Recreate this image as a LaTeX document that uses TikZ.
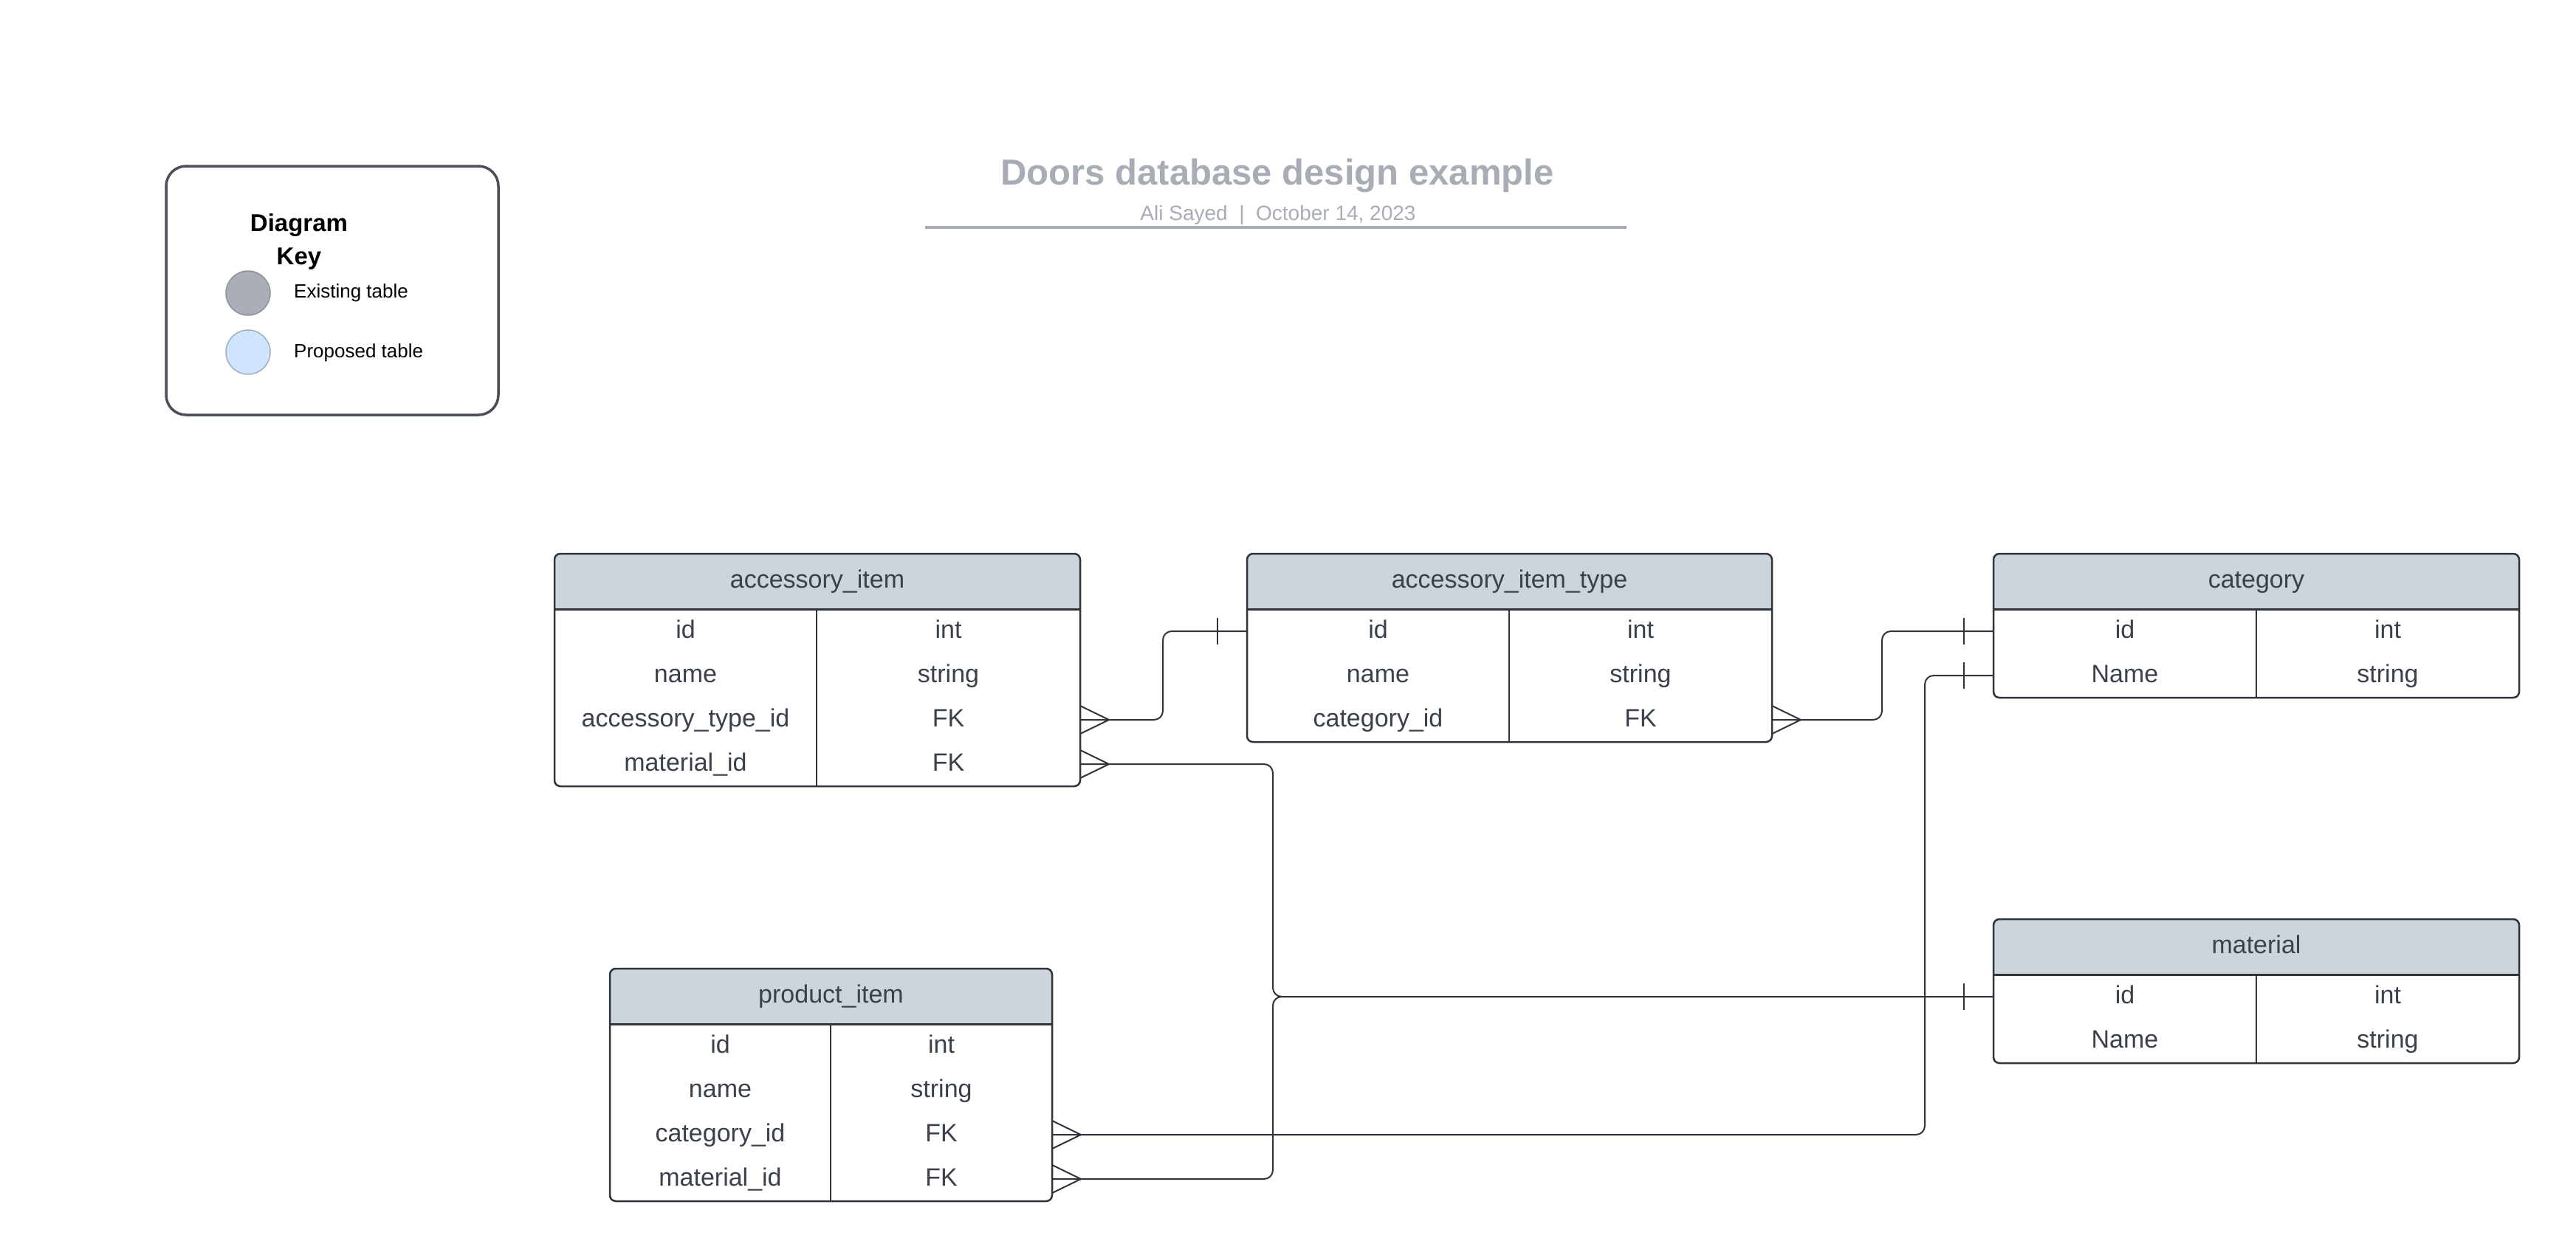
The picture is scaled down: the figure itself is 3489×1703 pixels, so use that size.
\documentclass[tikz,border=0pt]{standalone}
\usepackage{fontspec}
\setmainfont{Liberation Sans}
\definecolor{titlec}{HTML}{A7ACB5}
\definecolor{hdrfill}{HTML}{CED4DC}
\definecolor{textc}{HTML}{3A414A}
\definecolor{linec}{HTML}{2F343B}
\definecolor{keyborder}{HTML}{4A4F57}
\definecolor{existfill}{HTML}{A9AEB8}
\definecolor{existdraw}{HTML}{8B9099}
\definecolor{propfill}{HTML}{CFE4FF}
\definecolor{propdraw}{HTML}{A3AEBB}
\tikzset{
  tabline/.style={draw=linec, line width=2.5pt},
  hdrline/.style={draw=linec, line width=3pt},
  colline/.style={draw=linec, line width=1.5pt},
  conn/.style={draw=linec, line width=2pt, rounded corners=12pt},
  mark line/.style={draw=linec, line width=2pt},
  celltext/.style={anchor=base, inner sep=0pt, text=textc, font=\fontsize{34}{40}\selectfont},
  keytext/.style={anchor=base west, inner sep=0pt, text=black, font=\fontsize{26}{30}\selectfont},
  keyhead/.style={anchor=base, inner sep=0pt, text=black, font=\fontsize{33}{40}\selectfont\bfseries},
  keydot/.style={circle, inner sep=0pt, minimum size=60pt, line width=1.5pt},
}
% table: #1 name, #2 x1, #3 y1, #4 x2, #5 xc, #6 nrows, #7 title, #8 rows
\newcommand\ertab[8]{%
  \pgfmathsetmacro\yh{#3+75}%
  \pgfmathsetmacro\yb{#3+75+60*#6}%
  \begin{scope}
    \clip[rounded corners=8pt] (#2,#3) rectangle (#4,\yb);
    \fill[hdrfill] (#2,#3) rectangle (#4,\yh);
  \end{scope}
  \draw[tabline, rounded corners=8pt] (#2,#3) rectangle (#4,\yb);
  \draw[hdrline] (#2,\yh) -- (#4,\yh);
  \draw[colline] (#5,\yh) -- (#5,\yb);
  \node[celltext] (#1-h) at ({(#2+#4)/2},{#3+37.5+9}) {#7};
  \foreach \kk/\ty [count=\i] in {#8} {
    \node[celltext] (#1-k\i) at ({(#2+#5)/2},{\yh+60*\i-30+9}) {\kk};
    \node[celltext] (#1-t\i) at ({(#5+#4)/2},{\yh+60*\i-30+9}) {\ty};
    \coordinate (#1-L\i) at (#2,{\yh+60*\i-30});
    \coordinate (#1-R\i) at (#4,{\yh+60*\i-30});
  }%
}
\newcommand\crowR[1]{\draw[mark line] ([yshift=19pt]#1) -- ([xshift=39pt]#1) -- ([yshift=-19pt]#1);}
\newcommand\barL[1]{\draw[mark line] ([xshift=-40pt,yshift=18pt]#1) -- ([xshift=-40pt,yshift=-18pt]#1);}
\begin{document}
\begin{tikzpicture}[x=1pt,y=-1pt]
\fill[white] (0,0) rectangle (3489,1703);
\useasboundingbox (0,0) rectangle (3489,1703);

% key
\draw[draw=keyborder, line width=3.5pt, rounded corners=27pt] (225,225) rectangle (675,562);
\node[keyhead] (keyh1) at (405,313) {Diagram};
\node[keyhead] (keyh2) at (405,358) {Key};
\node[keydot, fill=existfill, draw=existdraw] (exdot) at (336,397) {};
\node[keydot, fill=propfill, draw=propdraw] (prdot) at (336,477) {};
\node[keytext] (extext) at (398,403) {Existing table};
\node[keytext] (prtext) at (398,484) {Proposed table};

% title
\node[anchor=base, inner sep=0pt, text=titlec, font=\fontsize{49}{56}\selectfont\bfseries] (title) at (1730,250) {Doors database design example};
\node[anchor=base, inner sep=0pt, text=titlec, font=\fontsize{28}{32}\selectfont] (subtitle) at (1731,298) {Ali Sayed~~|~~October 14, 2023};
\coordinate (ruleL) at (1253,308);
\coordinate (ruleR) at (2203,308);
\draw[draw=titlec, line width=4pt] (ruleL) -- (ruleR);

% tables
\ertab{ai}{751}{750}{1463}{1106}{4}{accessory\_item}{id/int,name/string,accessory\_type\_id/FK,material\_id/FK}
\ertab{ait}{1689}{750}{2400}{2044}{3}{accessory\_item\_type}{id/int,name/string,category\_id/FK}
\ertab{cat}{2700}{750}{3412}{3056}{2}{category}{id/int,Name/string}
\ertab{mat}{2700}{1245}{3412}{3056}{2}{material}{id/int,Name/string}
\ertab{pi}{826}{1312}{1425}{1125}{4}{product\_item}{id/int,name/string,category\_id/FK,material\_id/FK}

% connectors
\draw[conn] (ai-R3) -- ++(112,0) |- (ait-L1);
\draw[conn] (ait-R3) -- ++(149,0) |- (cat-L1);
\draw[conn] (ai-R4) -- ++(261,0) |- (mat-L1);
\draw[conn] (pi-R4) -- ++(299,0) |- (mat-L1);
\draw[conn] (pi-R3) -- ++(1182,0) |- (cat-L2);

\crowR{ai-R3}
\crowR{ai-R4}
\crowR{ait-R3}
\crowR{pi-R3}
\crowR{pi-R4}
\barL{ait-L1}
\barL{cat-L1}
\barL{cat-L2}
\barL{mat-L1}
\end{tikzpicture}
\end{document}
